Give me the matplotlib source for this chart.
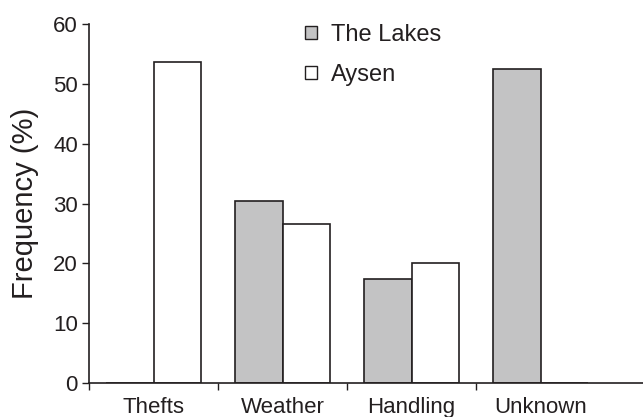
import numpy as np
import matplotlib
matplotlib.use('Agg')
import matplotlib.pyplot as plt
from matplotlib.patches import Patch

plt.rcParams['font.family'] = ['Liberation Sans', 'DejaVu Sans']

categories = ['Thefts', 'Weather', 'Handling', 'Unknown']
lakes = [0, 30.4, 17.3, 52.4]
aysen = [53.6, 26.6, 20.1, 0]
series_names = ['The Lakes', 'Aysen']

ink = '#231f20'
fig = plt.figure(figsize=(6.43, 4.17), dpi=100)
ax = fig.add_axes([89/643, 34/417, 554/643, 359/417])

x = np.arange(len(categories))
w = 0.368
ax.bar(x - w/2, lakes, w, color='#c3c3c4', edgecolor=ink, linewidth=1.2)
ax.bar(x + w/2, aysen, w, color='white', edgecolor=ink, linewidth=1.2)

ax.set_xlim(-0.5, -0.5 + 554/129)
ax.set_ylim(0, 60)
ax.set_yticks(range(0, 61, 10))
ax.set_xticks(x[:4] - 0.5)
ax.set_xticklabels([])
for i, c in enumerate(categories):
    ax.text(i, -2.4, c, ha='center', va='top', fontsize=16, color=ink)
ax.tick_params(axis='y', labelsize=16, colors=ink, length=5, width=1, pad=3)
ax.tick_params(axis='x', length=5, width=1, colors=ink)
ax.set_ylabel('Frequency (%)', fontsize=21, color=ink, labelpad=10)
for s in ['top', 'right']:
    ax.spines[s].set_visible(False)
for s in ['left', 'bottom']:
    ax.spines[s].set_color(ink)
    ax.spines[s].set_linewidth(1.2)

handles = [Patch(facecolor='#c3c3c4', edgecolor=ink, linewidth=1),
           Patch(facecolor='white', edgecolor=ink, linewidth=1)]
fig.legend(handles, series_names, loc='upper left', bbox_to_anchor=(305/643, 1 - 24/417),
           frameon=False, fontsize=17, handlelength=0.5, handleheight=0.5,
           handletextpad=0.6, labelspacing=0.75, borderaxespad=0, borderpad=0,
           labelcolor=ink)

fig.savefig('out.png', dpi=100)
